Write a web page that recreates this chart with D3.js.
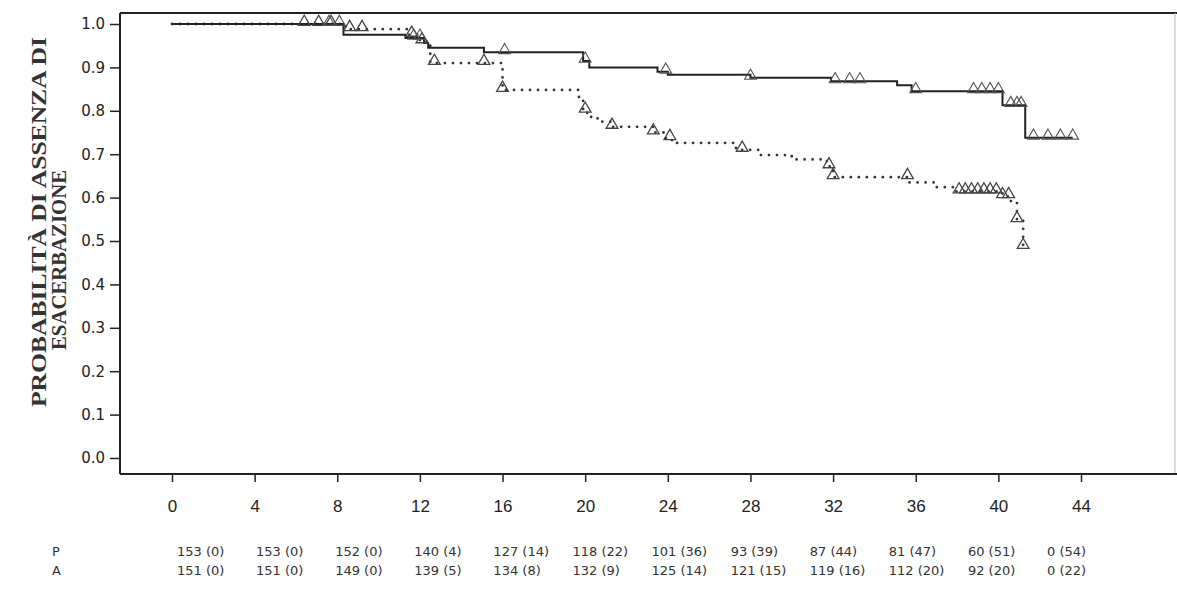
<!DOCTYPE html>
<html>
<head>
    <script src="https://d3js.org/d3.v7.min.js"></script>
    <style>
        body { margin: 0; background: #fff; }
    </style>
</head>
<body>
    <div id="chart"></div>
    <script>
        // P curve (solid): step times (weeks) and survival after each step
        const pTimes = [0, 8.3, 11.3, 12.2, 12.4, 15.1, 19.9, 20.2, 23.5, 24.0, 28.0, 31.9, 35.1, 35.8, 40.2, 41.3];
        const pSurv = [1.0, 0.975, 0.968, 0.956, 0.945, 0.935, 0.915, 0.900, 0.890, 0.883, 0.876, 0.868, 0.859, 0.845, 0.813, 0.738];
        const pEnd = 43.6;
        const pCensor = [7.6, 8.1, 11.7, 12.0, 16.1, 20.0, 23.9, 28.0, 32.1, 32.8, 33.3, 36.0, 38.8, 39.2, 39.6, 40.0, 40.6, 40.9, 41.1, 41.7, 42.4, 43.0, 43.6];

        // A curve (dotted)
        const aTimes = [0, 8.4, 11.4, 12.0, 12.5, 16.0, 19.7, 19.9, 20.1, 20.6, 21.3, 23.3, 23.9, 24.2, 27.3, 28.5, 30.0, 31.7, 32.0, 35.7, 37.0, 37.8, 40.2, 40.6, 40.9, 41.2];
        const aSurv = [1.0, 0.988, 0.975, 0.96, 0.91, 0.848, 0.825, 0.80, 0.786, 0.775, 0.763, 0.75, 0.737, 0.726, 0.71, 0.698, 0.688, 0.672, 0.647, 0.635, 0.624, 0.614, 0.603, 0.592, 0.548, 0.486];
        const aEnd = 41.3;
        const aCensor = [6.4, 7.1, 7.7, 8.6, 9.2, 11.6, 12.1, 12.7, 15.1, 16.0, 20.0, 21.3, 23.3, 24.1, 27.6, 31.8, 32.0, 35.6, 38.1, 38.4, 38.7, 39.0, 39.3, 39.6, 39.9, 40.2, 40.5, 40.9, 41.2];

        // ticks and number-at-risk table
        const xTicks = [0, 4, 8, 12, 16, 20, 24, 28, 32, 36, 40, 44];
        const yTicks = [0, 0.1, 0.2, 0.3, 0.4, 0.5, 0.6, 0.7, 0.8, 0.9, 1.0];
        const riskP = ["153 (0)", "153 (0)", "152 (0)", "140 (4)", "127 (14)", "118 (22)", "101 (36)", "93 (39)", "87 (44)", "81 (47)", "60 (51)", "0 (54)"];
        const riskA = ["151 (0)", "151 (0)", "149 (0)", "139 (5)", "134 (8)", "132 (9)", "125 (14)", "121 (15)", "119 (16)", "112 (20)", "92 (20)", "0 (22)"];

        const W = 1177, H = 607;
        const frame = { left: 120, top: 13, right: 1175, bottom: 474 };

        const svg = d3.select("#chart").append("svg")
            .attr("width", W)
            .attr("height", H);

        const x = d3.scaleLinear().domain([0, 44]).range([172, 1081]);
        const y = d3.scaleLinear().domain([0, 1]).range([458, 24]);

        // frame
        svg.append("line").attr("x1", frame.left).attr("x2", W).attr("y1", frame.top).attr("y2", frame.top)
            .attr("stroke", "#222").attr("stroke-width", 2);
        svg.append("line").attr("x1", frame.left).attr("x2", frame.left).attr("y1", frame.top).attr("y2", frame.bottom)
            .attr("stroke", "#222").attr("stroke-width", 2);
        svg.append("line").attr("x1", frame.right).attr("x2", frame.right).attr("y1", frame.top).attr("y2", frame.bottom)
            .attr("stroke", "#bbb").attr("stroke-width", 1);

        // y axis
        const yAxis = svg.append("g")
            .attr("transform", `translate(${frame.left},0)`)
            .call(d3.axisLeft(y).tickValues(yTicks).tickFormat(d3.format(".1f")).tickSize(10).tickPadding(5));
        yAxis.select(".domain").remove();
        yAxis.selectAll("line").attr("stroke", "#222").attr("stroke-width", 1.5);
        yAxis.selectAll("text").style("font-family", "DejaVu Sans").style("font-size", "15px").attr("fill", "#222");

        // x axis
        const xAxis = svg.append("g")
            .attr("transform", `translate(0,${frame.bottom})`)
            .call(d3.axisBottom(x).tickValues(xTicks).tickSize(8).tickPadding(18));
        xAxis.select(".domain").remove();
        xAxis.selectAll("line").attr("stroke", "#222").attr("stroke-width", 1.5);
        xAxis.selectAll("text").style("font-family", "Liberation Sans").style("font-size", "17px").attr("fill", "#222");
        svg.append("line").attr("x1", frame.left).attr("x2", W).attr("y1", frame.bottom).attr("y2", frame.bottom)
            .attr("stroke", "#222").attr("stroke-width", 2);

        // y axis title (two lines, tightly stacked)
        const titleStyle = sel => sel
            .attr("text-anchor", "middle")
            .style("font-family", "Liberation Serif")
            .style("font-weight", "bold")
            .style("font-size", "22px")
            .attr("fill", "#333")
            .attr("lengthAdjust", "spacingAndGlyphs");
        svg.append("text")
            .attr("transform", "translate(46,222) rotate(-90)")
            .call(titleStyle)
            .attr("textLength", 370)
            .text("PROBABILITÀ DI ASSENZA DI");
        svg.append("text")
            .attr("transform", "translate(66,260) rotate(-90)")
            .call(titleStyle)
            .attr("textLength", 180)
            .text("ESACERBAZIONE");

        function stepData(times, surv, end) {
            const pts = times.map((t, i) => ({ t: t, s: surv[i] }));
            pts.push({ t: end, s: surv[surv.length - 1] });
            return pts;
        }
        function survAt(times, surv, t) {
            let s = surv[0];
            times.forEach((tt, i) => { if (tt <= t) s = surv[i]; });
            return s;
        }

        const line = d3.line()
            .x(d => x(d.t))
            .y(d => y(d.s))
            .curve(d3.curveStepAfter);

        // A dotted
        svg.append("path")
            .datum(stepData(aTimes, aSurv, aEnd))
            .attr("fill", "none")
            .attr("stroke", "#333")
            .attr("stroke-width", 2.8)
            .attr("stroke-linecap", "round")
            .attr("stroke-dasharray", "0,8")
            .attr("d", line);

        // P solid
        svg.append("path")
            .datum(stepData(pTimes, pSurv, pEnd))
            .attr("fill", "none")
            .attr("stroke", "#222")
            .attr("stroke-width", 2)
            .attr("d", line);

        const tri = d3.symbol().type(d3.symbolTriangle).size(60);

        svg.append("g").selectAll("path")
            .data(aCensor)
            .join("path")
            .attr("d", tri)
            .attr("transform", d => `translate(${x(d)},${y(survAt(aTimes, aSurv, d)) - 2})`)
            .attr("fill", "none")
            .attr("stroke", "#444")
            .attr("stroke-width", 1.3);

        svg.append("g").selectAll("path")
            .data(pCensor)
            .join("path")
            .attr("d", tri)
            .attr("transform", d => `translate(${x(d)},${y(survAt(pTimes, pSurv, d)) - 2})`)
            .attr("fill", "none")
            .attr("stroke", "#555")
            .attr("stroke-width", 1.1);

        // number at risk table
        const col = d3.scalePoint().domain(d3.range(xTicks.length)).range([177, 1047]);
        const rows = [{ label: "P", vals: riskP, yy: 556 }, { label: "A", vals: riskA, yy: 575 }];
        rows.forEach(r => {
            svg.append("text")
                .attr("x", 52).attr("y", r.yy)
                .style("font-family", "DejaVu Sans").style("font-size", "13px")
                .attr("fill", "#333")
                .text(r.label);
            svg.append("g").selectAll("text")
                .data(r.vals)
                .join("text")
                .attr("x", (d, i) => col(i))
                .attr("y", r.yy)
                .style("font-family", "DejaVu Sans").style("font-size", "13px")
                .attr("fill", "#333")
                .text(d => d);
        });
    </script>
</body>
</html>
